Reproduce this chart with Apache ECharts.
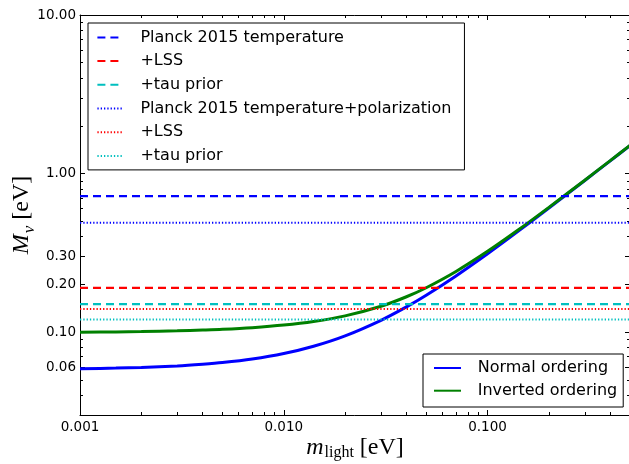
<!DOCTYPE html>
<html>
<head>
<meta charset="utf-8">
<script src="https://cdn.jsdelivr.net/npm/echarts@6/dist/echarts.min.js"></script>
<style>
html,body{margin:0;padding:0;background:#fff;}
#chart{width:629px;height:464px;}
</style>
</head>
<body>
<div id="chart"></div>
<script>
// ---- data ----
const mLight = [0.001, 0.0015, 0.002, 0.003, 0.004, 0.005, 0.007, 0.01, 0.014, 0.02, 0.03, 0.04, 0.05, 0.07, 0.1, 0.14, 0.2, 0.3, 0.4, 0.5];
const sumNormal = [0.0587, 0.0593, 0.0599, 0.0612, 0.0627, 0.0642, 0.0676, 0.0732, 0.0814, 0.0947, 0.1187, 0.1442, 0.1707, 0.226, 0.3117, 0.4286, 0.6061, 0.9041, 1.2031, 1.5025];
const sumInverted = [0.0998, 0.1003, 0.1008, 0.1019, 0.1031, 0.1042, 0.1067, 0.1107, 0.1166, 0.1265, 0.1455, 0.1671, 0.1905, 0.2413, 0.3231, 0.4369, 0.612, 0.9081, 1.2061, 1.5049];

const limitIds = ['tt', 'tt_lss', 'tt_tau', 'ttpol', 'ttpol_lss', 'ttpol_tau'];
const limitLabels = ['Planck 2015 temperature', '+LSS', '+tau prior', 'Planck 2015 temperature+polarization', '+LSS', '+tau prior'];
const limitValues = [0.72, 0.19, 0.15, 0.49, 0.14, 0.12];
const limitColors = ['#0000ff', '#ff0000', '#00bfbf', '#0000ff', '#ff0000', '#00bfbf'];
const limitDashed = [true, true, true, false, false, false];

const xRange = [0.001, 0.5];
const yRange = [0.03, 10];
const xMajorTicks = [0.001, 0.01, 0.1];
const xMinorTicks = [0.002,0.003,0.004,0.005,0.006,0.007,0.008,0.009,0.02,0.03,0.04,0.05,0.06,0.07,0.08,0.09,0.2,0.3,0.4,0.5];
const yMajorTicks = [0.06, 0.1, 0.2, 0.3, 1, 10];
const yMinorTicks = [0.04,0.05,0.07,0.08,0.09,0.4,0.5,0.6,0.7,0.8,0.9,2,3,4,5,6,7,8,9];

const curveNames = ['Normal ordering', 'Inverted ordering'];

// ---- chart ----
const chart = echarts.init(document.getElementById('chart'), null, {renderer: 'canvas'});
const FONT = 'DejaVu Sans';
const SERIF = 'Liberation Serif';

function xAxisDef(pos, ticks, len, showLine, showLabel, name) {
  const a = {
    type: 'log', logBase: 10, min: xRange[0], max: xRange[1], position: pos, gridIndex: 0,
    axisLine: {show: showLine, onZero: false, lineStyle: {color: '#000', width: 1}},
    axisTick: {show: true, inside: true, length: len, customValues: ticks, lineStyle: {color: '#000', width: 1}},
    axisLabel: {show: showLabel, customValues: xMajorTicks, margin: 5, color: '#000', fontFamily: FONT, fontSize: 13.5,
      formatter: v => Number(v).toFixed(3)},
    splitLine: {show: false}, minorTick: {show: false}, minorSplitLine: {show: false}
  };
  if (name) {
    a.name = name.text; a.nameLocation = 'middle'; a.nameGap = name.gap; a.nameTextStyle = name.style; a.nameMoveOverlap = false;
  }
  return a;
}
function yAxisDef(pos, ticks, len, showLine, showLabel, name) {
  const a = {
    type: 'log', logBase: 10, min: yRange[0], max: yRange[1], position: pos, gridIndex: 0,
    axisLine: {show: showLine, onZero: false, lineStyle: {color: '#000', width: 1}},
    axisTick: {show: true, inside: true, length: len, customValues: ticks, lineStyle: {color: '#000', width: 1}},
    axisLabel: {show: showLabel, customValues: yMajorTicks, margin: 4, color: '#000', fontFamily: FONT, fontSize: 13.5,
      formatter: v => Number(v).toFixed(2)},
    splitLine: {show: false}, minorTick: {show: false}, minorSplitLine: {show: false}
  };
  if (name) {
    a.name = name.text; a.nameLocation = 'middle'; a.nameGap = name.gap; a.nameRotate = 90; a.nameTextStyle = name.style; a.nameMoveOverlap = false;
  }
  return a;
}

const mathRich = {
  i: {fontFamily: SERIF, fontStyle: 'italic', fontSize: 24, color: '#000', verticalAlign: 'top', lineHeight: 26},
  si: {fontFamily: SERIF, fontStyle: 'italic', fontSize: 17, color: '#000', verticalAlign: 'top', padding: [11, 0, 0, 1], lineHeight: 17},
  s: {fontFamily: SERIF, fontSize: 16, color: '#000', verticalAlign: 'top', padding: [9, 0, 0, 1], lineHeight: 16},
  r: {fontFamily: SERIF, fontSize: 24, color: '#000', verticalAlign: 'top', lineHeight: 26}
};

const series = [];
series.push({
  id: 'normal', name: curveNames[0], type: 'line', xAxisIndex: 0, yAxisIndex: 0,
  data: mLight.map((m, k) => [m, sumNormal[k]]), smooth: 0.3, symbol: 'none',
  lineStyle: {color: '#0000ff', width: 3}, itemStyle: {color: '#0000ff'}, z: 2
});
series.push({
  id: 'inverted', name: curveNames[1], type: 'line', xAxisIndex: 0, yAxisIndex: 0,
  data: mLight.map((m, k) => [m, sumInverted[k]]), smooth: 0.3, symbol: 'none',
  lineStyle: {color: '#008000', width: 3}, itemStyle: {color: '#008000'}, z: 3
});
limitIds.forEach((id, k) => {
  series.push({
    id: id, name: id, type: 'line', xAxisIndex: 0, yAxisIndex: 0,
    data: xRange.map(x => [x, limitValues[k]]), symbol: 'none',
    lineStyle: {color: limitColors[k], width: limitDashed[k] ? 2.2 : 2, type: limitDashed[k] ? [8, 5] : [1.3, 2], cap: 'butt'},
    itemStyle: {color: limitColors[k]}, z: 4
  });
});

const legendItemStyle = {color: 'rgba(0,0,0,0)', borderWidth: 0, opacity: 0};

const option = {
  animation: false,
  backgroundColor: '#fff',
  grid: {left: 80, right: -1, top: 15, bottom: 49, containLabel: false, outerBoundsMode: 'none'},
  xAxis: [
    xAxisDef('bottom', xMajorTicks, 5, true, true, {text: '{i|m}{s|light}{r| [eV]}', gap: 21, style: {rich: mathRich}}),
    xAxisDef('bottom', xMinorTicks, 3, false, false),
    xAxisDef('top', xMajorTicks, 5, true, false),
    xAxisDef('top', xMinorTicks, 3, false, false)
  ],
  yAxis: [
    yAxisDef('left', yMajorTicks, 5, true, true, {text: '{i|M}{si|ν}{r| [eV]}', gap: 44, style: {rich: mathRich}}),
    yAxisDef('left', yMinorTicks, 3, false, false),
    yAxisDef('right', yMajorTicks, 5, false, false),
    yAxisDef('right', yMinorTicks, 3, false, false)
  ],
  legend: [
    {
      data: limitIds, orient: 'vertical', left: 88, top: 23,
      itemWidth: 25, itemHeight: 14, itemGap: 7.7,
      padding: [6.4, 13, 6, 8.4],
      borderColor: '#000', borderWidth: 1, backgroundColor: '#fff', borderRadius: 0,
      selectedMode: false, itemStyle: legendItemStyle,
      formatter: name => limitLabels[limitIds.indexOf(name)],
      textStyle: {fontFamily: FONT, fontSize: 16, color: '#000', lineHeight: 16, padding: [0, 0, 0, 13]}
    },
    {
      data: curveNames, orient: 'vertical', left: 423, top: 354,
      itemWidth: 27, itemHeight: 14, itemGap: 6.7,
      padding: [6, 6, 8.3, 10],
      borderColor: '#000', borderWidth: 1, backgroundColor: '#fff', borderRadius: 0,
      selectedMode: false, itemStyle: legendItemStyle,
      textStyle: {fontFamily: FONT, fontSize: 16, color: '#000', lineHeight: 16, padding: [0, 0, 0, 11.7]}
    }
  ],
  series: series
};
chart.setOption(option);
</script>
</body>
</html>
